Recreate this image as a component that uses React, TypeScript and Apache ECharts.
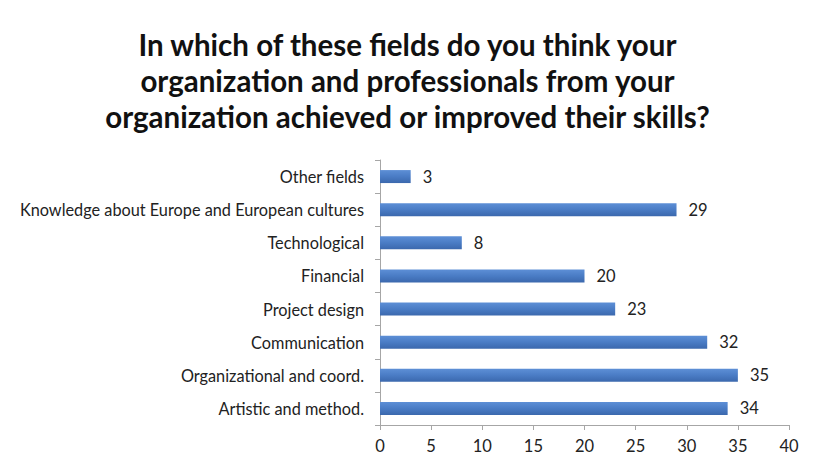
import React, { useEffect, useRef } from "react";
import * as echarts from "echarts";

const categories = [
  "Other fields",
  "Knowledge about Europe and European cultures",
  "Technological",
  "Financial",
  "Project design",
  "Communication",
  "Organizational and coord.",
  "Artistic and method.",
];
const values = [3, 29, 8, 20, 23, 32, 35, 34];
const titleText =
  "In which of these fields do you think your\norganization and professionals from your\norganization achieved or improved their skills?";

export default function App() {
  const ref = useRef<HTMLDivElement>(null);
  useEffect(() => {
    if (!ref.current) return;
    const chart = echarts.init(ref.current, null, { renderer: "svg" });
    chart.setOption({
      animation: false,
      backgroundColor: "#ffffff",
      title: {
        text: titleText,
        left: "center",
        top: 21,
        textStyle: {
          fontFamily: "Lato",
          fontWeight: "bold",
          fontSize: 29.5,
          lineHeight: 36,
          color: "#111111",
        },
      },
      grid: { left: 380, right: 26, top: 160, bottom: 42, containLabel: false },
      xAxis: {
        type: "value",
        min: 0,
        max: 40,
        interval: 5,
        axisLine: { show: true, lineStyle: { color: "#a6a6a6", width: 1 } },
        axisTick: { show: true, length: 5, lineStyle: { color: "#a6a6a6" } },
        splitLine: { show: false },
        axisLabel: {
          fontFamily: "Lato",
          fontSize: 16.5,
          color: "#222222",
          margin: 12,
        },
      },
      yAxis: {
        type: "category",
        data: categories,
        inverse: true,
        axisLine: { show: true, lineStyle: { color: "#a6a6a6", width: 1 } },
        axisTick: { show: true, length: 5, lineStyle: { color: "#a6a6a6" } },
        axisLabel: {
          fontFamily: "Lato",
          fontSize: 16.3,
          color: "#222222",
          margin: 16,
        },
      },
      series: [
        {
          type: "bar",
          data: values,
          barWidth: 13,
          itemStyle: {
            color: new echarts.graphic.LinearGradient(0, 0, 0, 1, [
              { offset: 0, color: "#5d8fd6" },
              { offset: 0.5, color: "#4a7cc5" },
              { offset: 1, color: "#3b68ad" },
            ]),
          },
          label: {
            show: true,
            position: "right",
            distance: 12,
            fontFamily: "Lato",
            fontSize: 16.5,
            color: "#222222",
          },
        },
      ],
    });
    return () => chart.dispose();
  }, []);
  return (
    <div style={{ position: "relative", width: 815, height: 467, margin: -8, overflow: "hidden" }}>
      <div ref={ref} style={{ width: 815, height: 467 }} />
      <div
        style={{
          position: "absolute",
          left: 4,
          top: 5,
          width: 804,
          height: 480,
          borderLeft: "3px solid #d6d6d6",
          borderTop: "2px solid #e2e2e2",
          borderRight: "2px solid #e2e2e2",
          pointerEvents: "none",
        }}
      />
    </div>
  );
}
